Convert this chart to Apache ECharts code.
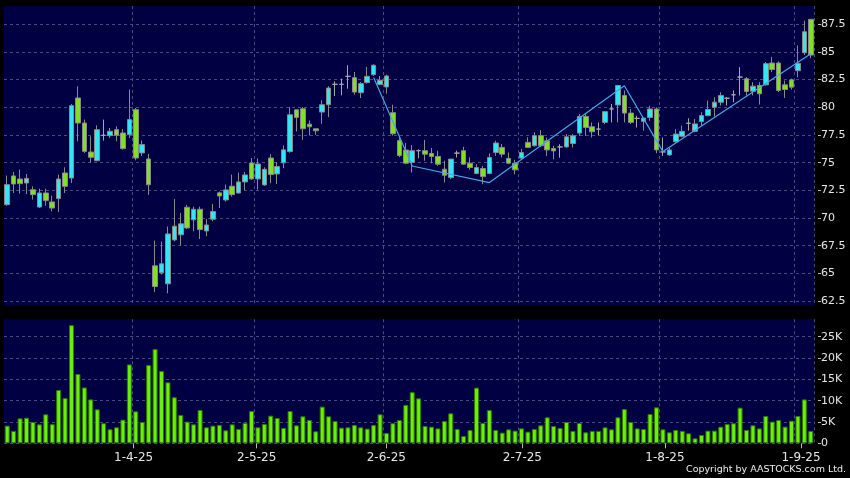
<!DOCTYPE html>
<html><head><meta charset="utf-8">
<script src="https://cdn.jsdelivr.net/npm/echarts@6/dist/echarts.min.js"></script>
<style>html,body{margin:0;padding:0;background:#000;}#c{width:850px;height:478px;}</style>
</head><body><div id="c"></div>
<script>
const dates = [
'2025-03-04','2025-03-05','2025-03-06','2025-03-07','2025-03-10','2025-03-11','2025-03-12','2025-03-13','2025-03-14','2025-03-17',
'2025-03-18','2025-03-19','2025-03-20','2025-03-21','2025-03-24','2025-03-25','2025-03-26','2025-03-27','2025-03-28','2025-03-31',
'2025-04-01','2025-04-02','2025-04-03','2025-04-07','2025-04-08','2025-04-09','2025-04-10','2025-04-11','2025-04-14','2025-04-15',
'2025-04-16','2025-04-17','2025-04-22','2025-04-23','2025-04-24','2025-04-25','2025-04-28','2025-04-29','2025-04-30',
'2025-05-02','2025-05-06','2025-05-07','2025-05-08','2025-05-09','2025-05-12','2025-05-13','2025-05-14','2025-05-15','2025-05-16',
'2025-05-19','2025-05-20','2025-05-21','2025-05-22','2025-05-23','2025-05-26','2025-05-27','2025-05-28','2025-05-29','2025-05-30',
'2025-06-02','2025-06-03','2025-06-04','2025-06-05','2025-06-06','2025-06-09','2025-06-10','2025-06-11','2025-06-12','2025-06-13',
'2025-06-16','2025-06-17','2025-06-18','2025-06-19','2025-06-20','2025-06-23','2025-06-24','2025-06-25','2025-06-26','2025-06-27','2025-06-30',
'2025-07-02','2025-07-03','2025-07-04','2025-07-07','2025-07-08','2025-07-09','2025-07-10','2025-07-11','2025-07-14','2025-07-15',
'2025-07-16','2025-07-17','2025-07-18','2025-07-21','2025-07-22','2025-07-23','2025-07-24','2025-07-25','2025-07-28','2025-07-29','2025-07-30','2025-07-31',
'2025-08-01','2025-08-04','2025-08-05','2025-08-06','2025-08-07','2025-08-08','2025-08-11','2025-08-12','2025-08-13','2025-08-14',
'2025-08-15','2025-08-18','2025-08-19','2025-08-20','2025-08-21','2025-08-22','2025-08-25','2025-08-26','2025-08-27','2025-08-28','2025-08-29',
'2025-09-01','2025-09-02','2025-09-03'
];
const opens = [
71.2,73.8,73.52,73.16,72.56,70.99,72.26,71.45,71.75,74.07,
73.61,80.84,78.58,75.96,75.18,77.47,77.44,77.98,77.68,77.53,
79.79,75.88,75.33,65.68,65.05,64.05,68.02,68.48,70.97,69.83,
70.79,68.83,69.89,72.27,71.63,72.87,72.26,73.26,74.97,73.53,
72.99,75.42,73.98,74.98,76.0,79.78,79.87,78.48,78.06,79.57,
80.23,82.08,82.08,82.8,82.68,81.32,82.23,82.95,82.05,81.84,
79.51,77.0,76.14,75.02,76.08,76.08,75.83,75.56,74.41,73.65,
75.86,76.08,74.95,74.02,74.47,74.02,75.92,76.38,75.38,74.95,
75.41,76.83,76.53,77.44,76.97,76.27,76.42,76.42,76.73,77.67,
79.18,78.24,78.03,78.64,79.85,80.21,81.06,79.48,79.0,78.73,
79.09,79.85,75.97,75.7,76.88,77.38,78.56,77.83,78.71,79.25,
80.01,80.46,80.82,81.13,82.73,82.58,81.46,81.97,82.03,84.0,
84.0,82.03,82.48,83.31,84.93,87.95
];
const closes = [
73.01,73.07,73.1,73.58,72.11,72.26,71.57,70.9,73.52,72.86,
80.15,78.58,76.02,75.48,77.98,77.47,77.83,77.47,76.27,78.89,
75.42,76.63,73.0,63.81,65.86,68.56,69.26,69.47,69.1,70.79,
68.95,69.37,70.58,71.99,72.54,72.11,73.26,73.89,73.53,74.88,
74.4,73.92,74.65,76.16,79.33,79.09,78.06,78.24,77.88,80.23,
81.74,82.08,82.08,82.8,81.38,82.14,82.8,83.8,82.44,82.83,
77.61,75.64,74.95,76.08,76.08,75.77,75.56,74.86,73.86,75.32,
75.86,74.86,74.56,74.56,73.74,75.47,76.77,75.77,74.95,74.35,
75.92,76.38,77.44,76.53,76.15,76.06,76.42,77.33,77.42,79.18,
78.18,77.79,78.03,79.61,79.85,81.97,79.48,78.64,79.0,79.03,
79.85,76.15,75.97,76.15,77.58,77.83,78.56,78.5,79.25,79.8,
80.46,81.07,80.82,81.13,82.73,81.43,81.91,81.22,83.94,83.42,
81.52,81.61,81.82,83.97,86.83,84.72
];
const lows = [
71.11,72.26,72.2,72.17,71.66,70.9,71.11,70.6,70.54,72.26,
73.16,76.93,75.87,74.97,75.12,76.99,77.23,76.93,76.17,77.23,
75.21,75.6,72.08,63.3,64.9,63.2,67.9,67.51,69.0,68.8,
68.1,68.35,69.7,70.9,71.48,71.93,72.2,72.48,73.45,72.57,
72.9,73.14,73.07,74.49,75.9,77.82,77.06,77.45,77.51,78.51,
79.12,81.02,81.08,81.68,81.14,80.84,82.14,82.83,82.0,81.23,
77.45,75.5,74.86,74.11,75.4,75.17,74.95,74.71,73.2,73.5,
75.47,74.8,74.35,73.95,73.05,73.95,75.62,75.47,74.86,73.95,
75.32,76.32,76.45,76.4,75.61,75.3,75.45,76.36,76.36,77.42,
77.42,77.27,77.49,78.48,78.64,78.64,78.64,78.48,78.18,77.88,
78.79,75.85,75.61,75.61,76.82,77.29,77.89,77.74,78.35,79.19,
79.16,80.16,80.16,80.46,81.07,81.07,81.07,80.25,81.97,83.18,
81.37,80.85,81.6,82.71,84.72,84.43
];
const highs = [
73.83,74.16,74.37,73.98,72.86,72.65,72.65,72.02,73.92,74.58,
80.3,81.9,78.89,77.38,78.37,78.89,78.13,78.28,78.04,81.6,
79.94,77.0,75.78,67.96,67.87,69.23,71.72,70.46,71.18,71.03,
71.03,69.92,71.27,72.39,73.02,73.92,74.1,74.16,75.42,75.39,
74.58,75.78,75.04,76.55,80.02,79.78,80.02,78.81,78.06,80.63,
81.9,82.35,82.59,83.8,83.19,82.29,83.65,83.89,82.83,82.95,
80.23,77.45,76.77,76.59,76.2,77.05,76.32,76.08,75.17,75.32,
76.08,76.44,75.47,74.86,74.71,75.83,76.98,76.68,75.92,75.26,
76.23,77.29,77.74,77.95,77.27,76.52,76.67,77.58,77.58,79.39,
79.39,78.64,78.64,79.61,80.3,81.97,81.52,79.85,79.24,79.03,
80.15,80.0,77.27,76.36,78.03,78.35,79.01,78.95,79.55,80.61,
80.91,81.37,80.91,81.52,83.63,82.73,82.27,82.27,84.09,84.54,
84.15,82.42,82.6,85.6,87.83,87.95
];
const volumes = [
4140,2900,5860,6000,5000,4450,6800,4500,12500,10600,
27700,16250,13100,10300,7970,4700,3300,3750,5550,18500,
7500,5000,18360,22100,16950,14300,10800,6640,5080,4450,
7800,3750,4140,4300,3050,4450,3360,4770,7580,3750,
4530,6480,5940,3600,7580,4220,6330,5470,2810,8600,
6330,5230,3670,3750,4300,3750,3440,4300,6800,2420,
4700,5470,9000,12000,10550,4060,3900,3500,5230,7030,
3360,1720,3130,13050,4770,7800,3130,2500,3280,2970,
3500,2730,3360,4220,6100,4060,3600,5000,2900,4770,
2580,2900,2900,3750,3280,6100,8050,5000,3500,3360,
6880,8440,3280,2580,3130,2900,2340,1170,1950,2970,
2970,3900,4530,4700,8360,3130,4220,3500,6400,5080,
5470,3900,5300,6400,10300,2900
];
const zigzagDates = ['2025-05-29','2025-06-06','2025-06-24','2025-07-24','2025-08-01','2025-09-03'];
const zigzagValues = [82.7,74.7,73.2,81.95,76.0,84.85];
const tickDates = ['2025-04-01','2025-05-02','2025-06-02','2025-07-02','2025-08-01','2025-09-01'];

const tickIdx = new Set(tickDates.map(d => dates.indexOf(d)));
const onTick = (i) => tickIdx.has(i);
const fmtDate = (d) => { const p = d.split('-'); return (+p[2]) + '-' + (+p[1]) + '-' + p[0].slice(2); };
const candleData = dates.map((d, i) => [opens[i], closes[i], lows[i], highs[i]]);
const zigzagData = zigzagDates.map((d, i) => [d, zigzagValues[i]]);

const navy = '#000042';
const dash = { color: '#4a4a80', type: [3, 3], width: 1 };
const lblColor = '#e6e6e6';
const font = 'DejaVu Sans';

const chart = echarts.init(document.getElementById('c'));
chart.setOption({
  backgroundColor: '#000000',
  animation: false,
  textStyle: { fontFamily: font },
  grid: [
    { left: 4, right: 36, top: 24.3, height: 276.7 },
    { left: 4, right: 36, top: 336.7, height: 106.6 },
    { left: 4, right: 36, top: 6, height: 300, show: true, backgroundColor: navy, borderWidth: 0, z: -1 },
    { left: 4, right: 36, top: 319.3, height: 124, show: true, backgroundColor: navy, borderWidth: 0, z: -1 }
  ],
  xAxis: [
    { type: 'category', gridIndex: 0, data: dates, show: false },
    { type: 'category', gridIndex: 1, data: dates, show: false, position: 'top' },
    { type: 'category', gridIndex: 1, data: dates, boundaryGap: false, position: 'bottom',
      axisLine: { show: false },
      axisTick: { show: true, interval: onTick, length: 5, lineStyle: { color: '#bbbbbb' } },
      axisLabel: { interval: onTick, formatter: fmtDate, color: lblColor, fontSize: 12, margin: 9, fontFamily: font },
      splitLine: { show: false } },
    { type: 'category', gridIndex: 2, data: dates,
      axisLine: { show: false }, axisTick: { show: false }, axisLabel: { show: false },
      splitLine: { show: true, interval: onTick, lineStyle: dash } },
    { type: 'category', gridIndex: 3, data: dates,
      axisLine: { show: false }, axisTick: { show: false }, axisLabel: { show: false },
      splitLine: { show: true, interval: onTick, lineStyle: dash } }
  ],
  yAxis: [
    { type: 'value', gridIndex: 0, position: 'right', min: 62.5, max: 87.5, interval: 2.5, offset: 4,
      axisLine: { show: false },
      axisTick: { show: true, length: 3, lineStyle: { color: '#bbbbbb' } },
      axisLabel: { color: lblColor, fontSize: 11, margin: 3, fontFamily: font, formatter: v => String(v) },
      splitLine: { show: true, lineStyle: dash } },
    { type: 'value', gridIndex: 1, position: 'right', min: 0, max: 25000, interval: 5000, offset: 4,
      axisLine: { show: false },
      axisTick: { show: true, length: 3, lineStyle: { color: '#bbbbbb' } },
      axisLabel: { color: lblColor, fontSize: 11, margin: 3, fontFamily: font, formatter: v => v === 0 ? '0' : (v / 1000) + 'K' },
      splitLine: { show: true, lineStyle: dash } },
    { type: 'value', gridIndex: 2, show: false },
    { type: 'value', gridIndex: 3, show: false }
  ],
  series: [
    { type: 'candlestick', xAxisIndex: 0, yAxisIndex: 0, data: candleData, barWidth: 5, clip: false,
      itemStyle: { color: '#33e6f4', color0: '#80e022', borderColor: '#8a8a8a', borderColor0: '#8a8a8a', borderColorDoji: '#a8a8a8', borderWidth: 1 } },
    { type: 'line', xAxisIndex: 0, yAxisIndex: 0, data: zigzagData, symbol: 'none', z: 3,
      lineStyle: { color: '#4aa4e6', width: 1.2 } },
    { type: 'bar', xAxisIndex: 1, yAxisIndex: 1, data: volumes, barWidth: 5, clip: false,
      itemStyle: { color: '#6af000', borderColor: '#2e7800', borderWidth: 1 } }
  ],
  graphic: [
    { type: 'text', right: 4, bottom: 3,
      style: { text: 'Copyright by AASTOCKS.com Ltd.', fill: '#eeeeee', font: '9.5px "DejaVu Sans"' } }
  ]
});
</script>
</body></html>
